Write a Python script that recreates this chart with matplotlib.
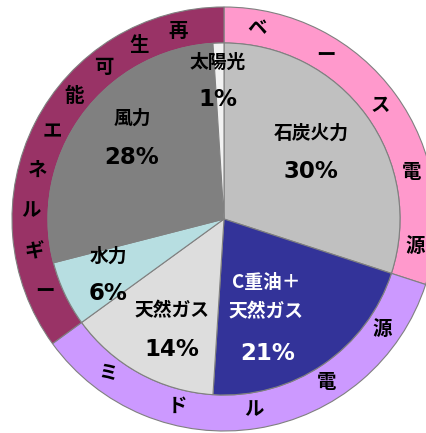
import matplotlib
matplotlib.use("Agg")
import matplotlib.pyplot as plt
import numpy as np

plt.rcParams['font.family'] = ['Noto Sans CJK JP', 'DejaVu Sans']

# ---- data ----
categories = ["石炭火力", "C重油＋\n天然ガス", "天然ガス", "水力", "風力", "太陽光"]
shares = [30, 21, 14, 6, 28, 1]
slice_colors = ["#C0C0C0", "#333399", "#DDDDDD", "#B7DEE1", "#808080", "#F2F2F2"]

groups = ["ベース電源", "ミドル電源", "再生可能エネルギー"]
group_shares = [30, 35, 35]
group_colors = ["#FF99CC", "#CC99FF", "#993366"]
group_char_step = [22.1, 23.0, 12.3]          # degrees between ring characters
group_text_reversed = [False, True, True]     # reading direction along ring

# ---- layout (pixel coordinates, y up) ----
W, H = 426, 433
cx, cy = 224, H - 219
r_in, r_out = 176, 212

fig = plt.figure(figsize=(W / 100, H / 100), dpi=100)
ax = fig.add_axes([0, 0, 1, 1])

edge = dict(edgecolor="#808080", linewidth=0.8)
ax.pie(group_shares, colors=group_colors, startangle=90, counterclock=False,
       radius=r_out, center=(cx, cy), wedgeprops=dict(width=r_out - r_in, **edge),
       frame=True)
ax.pie(shares, colors=slice_colors, startangle=90, counterclock=False,
       radius=r_in, center=(cx, cy), wedgeprops=edge, frame=True)
ax.set_xlim(0, W)
ax.set_ylim(0, H)
ax.set_aspect('equal')
ax.axis('off')

# ring characters
r_mid = (r_in + r_out) / 2 - 1
start = 90.0
for name, sh, step, rev in zip(groups, group_shares, group_char_step, group_text_reversed):
    span = sh / 100 * 360
    mid = start - span / 2
    chars = list(name)
    n = len(chars)
    if rev:
        chars = chars[::-1]
    for i, ch in enumerate(chars):
        ang = np.radians(mid + step * ((n - 1) / 2 - i))
        ax.text(cx + r_mid * np.cos(ang), cy + r_mid * np.sin(ang), ch,
                ha='center', va='center', fontsize=14, fontweight='bold', color='black')
    start -= span

# slice labels (name position, percent position in pixel coords, y down)
label_pos = [((311, 133), (311, 172)),
             ((266, 297), (268, 354)),
             ((172, 311), (172, 349)),
             ((108, 256), (108, 294)),
             ((132, 118), (132, 157)),
             ((218, 62), (218, 100))]
text_colors = ["black", "white", "black", "black", "black", "black"]
for cat, sh, (npos, ppos), tc in zip(categories, shares, label_pos, text_colors):
    ax.text(npos[0], H - npos[1], cat, ha='center', va='center', fontsize=13.5,
            fontweight='bold', color=tc, linespacing=1.7)
    ax.text(ppos[0], H - ppos[1], f"{sh}%", ha='center', va='center', fontsize=16.5,
            fontweight='bold', color=tc, family=['DejaVu Sans'])

fig.savefig("out.png", dpi=100, facecolor="white")
